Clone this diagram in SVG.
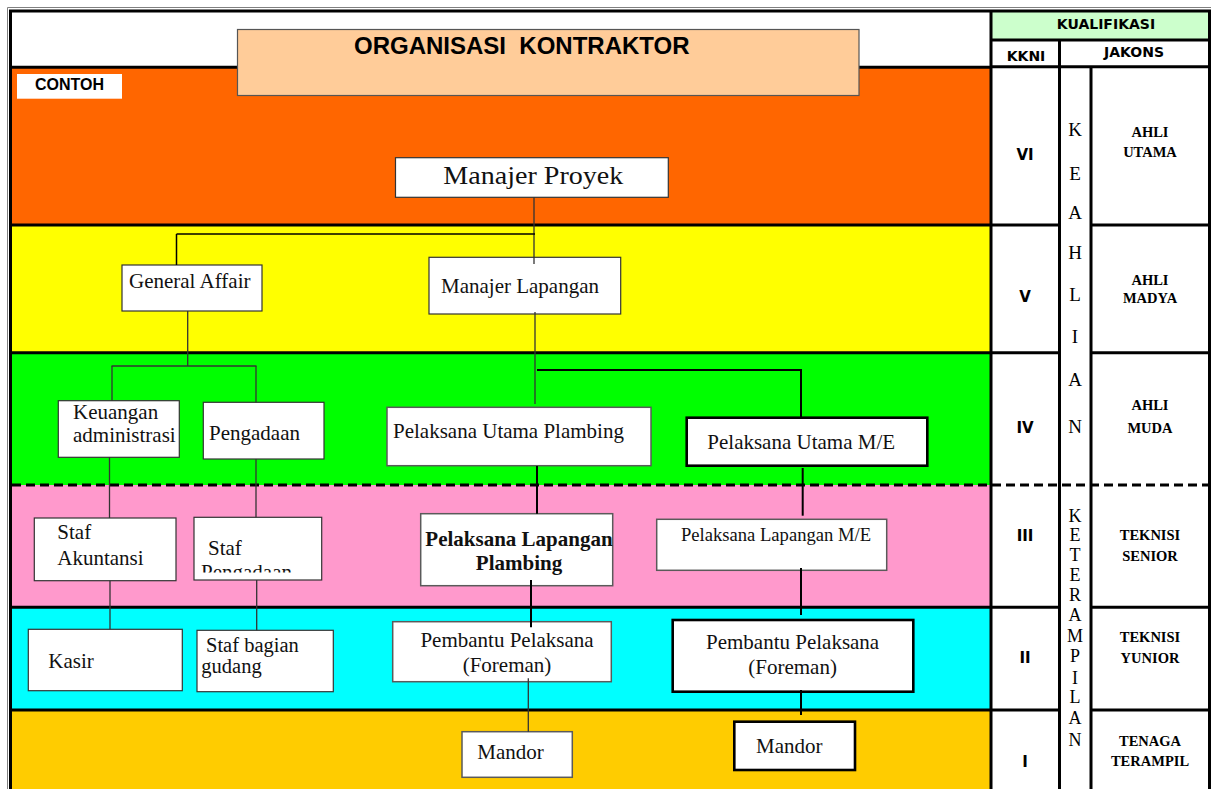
<svg xmlns="http://www.w3.org/2000/svg" width="1211" height="789" viewBox="0 0 1211 789">
  <defs>
    <style>
      .band-line { stroke: #000; stroke-width: 3; fill: none; }
      .cell-line { stroke: #000; stroke-width: 3; fill: none; }
      .box-thin { fill: #fff; stroke: #333; stroke-width: 1.2; }
      .box-gray { fill: #fff; stroke: #5a5a5a; stroke-width: 1.5; }
      .box-bold { fill: #fff; stroke: #000; stroke-width: 2.6; }
      .lbl { font-family: "Liberation Serif", "Times New Roman", serif; font-size: 21px; fill: #111; }
      .lbl-bold { font-family: "Liberation Serif", "Times New Roman", serif; font-size: 21px; font-weight: bold; fill: #111; }
      .hdr { font-family: "DejaVu Sans", Verdana, sans-serif; font-size: 14px; font-weight: bold; fill: #000; text-anchor: middle; }
      .num { font-family: "DejaVu Sans", Verdana, sans-serif; font-size: 15px; font-weight: bold; fill: #000; text-anchor: middle; }
      .lvl { font-family: "Liberation Serif", "Times New Roman", serif; font-size: 14.5px; font-weight: bold; fill: #000; text-anchor: middle; }
      .vlet { font-family: "Liberation Serif", "Times New Roman", serif; font-size: 18px; fill: #000; text-anchor: middle; }
      .con-thin { stroke: #333; stroke-width: 1.3; fill: none; }
      .con-bold { stroke: #000; stroke-width: 2; fill: none; }
    </style>
    <clipPath id="clip-staf-pengadaan">
      <rect x="194" y="517" width="128" height="55.5"/>
    </clipPath>
  </defs>

  <!-- page background -->
  <rect x="0" y="0" width="1211" height="789" fill="#fff"/>

  <!-- level bands -->
  <g id="bands">
    <rect x="12" y="12" width="978" height="55" fill="#fff"/>
    <rect x="12" y="67" width="978" height="158" fill="#FF6600"/>
    <rect x="12" y="225" width="978" height="128" fill="#FFFF00"/>
    <rect x="12" y="353" width="978" height="132" fill="#00FF00"/>
    <rect x="12" y="485" width="978" height="122" fill="#FF99CC"/>
    <rect x="12" y="607" width="978" height="103" fill="#00FFFF"/>
    <rect x="12" y="710" width="978" height="79" fill="#FFCC00"/>
    <line class="band-line" x1="12" y1="67.3" x2="990" y2="67.3"/>
    <line class="band-line" x1="12" y1="225" x2="990" y2="225"/>
    <line class="band-line" x1="12" y1="352.7" x2="990" y2="352.7"/>
    <line class="band-line" x1="12" y1="607.3" x2="990" y2="607.3"/>
    <line class="band-line" x1="12" y1="710" x2="990" y2="710"/>
  </g>

  <!-- qualification table -->
  <g id="qualification-table">
    <rect x="991" y="12" width="218.5" height="28" fill="#CCFFCC"/>
    <rect x="991" y="40" width="218.5" height="749" fill="#fff"/>
    <line class="cell-line" x1="991" y1="40" x2="1209.5" y2="40"/>
    <line class="cell-line" x1="991" y1="66.7" x2="1209.5" y2="66.7"/>
    <line class="cell-line" x1="1059.5" y1="40" x2="1059.5" y2="789"/>
    <line class="cell-line" x1="1091" y1="66.7" x2="1091" y2="789"/>
    <line class="cell-line" x1="991" y1="225" x2="1059.5" y2="225"/>
    <line class="cell-line" x1="1091" y1="225" x2="1209.5" y2="225"/>
    <line class="cell-line" x1="991" y1="352.7" x2="1059.5" y2="352.7"/>
    <line class="cell-line" x1="1091" y1="352.7" x2="1209.5" y2="352.7"/>
    <line class="cell-line" x1="991" y1="607.3" x2="1059.5" y2="607.3"/>
    <line class="cell-line" x1="1091" y1="607.3" x2="1209.5" y2="607.3"/>
    <line class="cell-line" x1="991" y1="710" x2="1059.5" y2="710"/>
    <line class="cell-line" x1="1091" y1="710" x2="1209.5" y2="710"/>
    <line class="cell-line" x1="991" y1="12" x2="991" y2="789"/>

    <text class="hdr" x="1106" y="28.5">KUALIFIKASI</text>
    <text class="hdr" x="1026" y="60.5">KKNI</text>
    <text class="hdr" x="1134" y="57">JAKONS</text>

    <text class="num" x="1025" y="160">VI</text>
    <text class="num" x="1025" y="301.7">V</text>
    <text class="num" x="1025" y="433.3">IV</text>
    <text class="num" x="1025" y="540.7">III</text>
    <text class="num" x="1025" y="663.3">II</text>
    <text class="num" x="1025" y="766.7">I</text>

    <g class="vlet" style="font-size:19px">
      <text x="1075" y="136">K</text>
      <text x="1075" y="180">E</text>
      <text x="1075" y="219">A</text>
      <text x="1075" y="259">H</text>
      <text x="1075" y="301">L</text>
      <text x="1075" y="343">I</text>
      <text x="1075" y="386">A</text>
      <text x="1075" y="433">N</text>
    </g>
    <g class="vlet">
      <text x="1075" y="521.7">K</text>
      <text x="1075" y="540.7">E</text>
      <text x="1075" y="560.7">T</text>
      <text x="1075" y="580.7">E</text>
      <text x="1075" y="600.7">R</text>
      <text x="1075" y="620.7">A</text>
      <text x="1075" y="641.7">M</text>
      <text x="1075" y="662.3">P</text>
      <text x="1075" y="684">I</text>
      <text x="1075" y="703.3">L</text>
      <text x="1075" y="724">A</text>
      <text x="1075" y="745.7">N</text>
    </g>

    <text class="lvl" x="1150" y="136.7">AHLI</text>
    <text class="lvl" x="1150" y="156.7">UTAMA</text>
    <text class="lvl" x="1150" y="285">AHLI</text>
    <text class="lvl" x="1150" y="303.3">MADYA</text>
    <text class="lvl" x="1150" y="410">AHLI</text>
    <text class="lvl" x="1150" y="433.3">MUDA</text>
    <text class="lvl" x="1150" y="540">TEKNISI</text>
    <text class="lvl" x="1150" y="560.7">SENIOR</text>
    <text class="lvl" x="1150" y="641.7">TEKNISI</text>
    <text class="lvl" x="1150" y="662.7">YUNIOR</text>
    <text class="lvl" x="1150" y="746">TENAGA</text>
    <text class="lvl" x="1150" y="766">TERAMPIL</text>
  </g>

  <!-- dashed boundary between expert and skilled levels -->
  <line x1="12" y1="485" x2="1209.5" y2="485" stroke="#000" stroke-width="3" stroke-dasharray="9 5"/>

  <!-- outer frame -->
  <g id="frame">
    <polyline points="7.5,789 7.5,7.5 1211,7.5" fill="none" stroke="#808080" stroke-width="1"/>
    <polyline points="10.5,789 10.5,11 1209.5,11 1209.5,789" fill="none" stroke="#000" stroke-width="3"/>
  </g>

  <!-- title -->
  <g id="title">
    <rect x="237.5" y="29.5" width="621.5" height="66" fill="#FFCC99" stroke="#555" stroke-width="1.2"/>
    <text x="354" y="54" font-family="'Liberation Sans', Arial, sans-serif" font-size="24" font-weight="bold" fill="#000" xml:space="preserve">ORGANISASI  KONTRAKTOR</text>
  </g>

  <g id="contoh">
    <rect x="17" y="74" width="105" height="24.7" fill="#fff"/>
    <text x="35" y="90" font-family="'Liberation Sans', Arial, sans-serif" font-size="16" font-weight="bold" fill="#000">CONTOH</text>
  </g>

  <!-- nodes -->
  <g id="n-manajer-proyek">
    <rect class="box-thin" x="395.5" y="157.7" width="272.8" height="39.6"/>
    <text class="lbl" x="443.3" y="184" style="font-size:26px" textLength="180" lengthAdjust="spacingAndGlyphs">Manajer Proyek</text>
  </g>
  <g id="n-general-affair">
    <rect class="box-thin" x="122" y="265" width="140" height="46"/>
    <text class="lbl" x="129" y="287.5">General Affair</text>
  </g>
  <g id="n-manajer-lapangan">
    <rect class="box-thin" x="429" y="257.3" width="191.7" height="56.7"/>
    <text class="lbl" x="441" y="292.7">Manajer Lapangan</text>
  </g>
  <g id="n-keuangan">
    <rect class="box-thin" x="58.3" y="400.7" width="121" height="56.6"/>
    <text class="lbl" x="73" y="419">Keuangan</text>
    <text class="lbl" x="73" y="441.7">administrasi</text>
  </g>
  <g id="n-pengadaan">
    <rect class="box-thin" x="203.3" y="402.3" width="120.7" height="56.7"/>
    <text class="lbl" x="209" y="440">Pengadaan</text>
  </g>
  <g id="n-pelaksana-utama-plambing">
    <rect class="box-gray" x="387" y="407.3" width="264" height="58.4"/>
    <text class="lbl" x="393" y="438">Pelaksana Utama Plambing</text>
  </g>
  <g id="n-pelaksana-utama-me">
    <rect class="box-bold" x="686.7" y="417.7" width="240.6" height="48"/>
    <text class="lbl" x="707.3" y="449">Pelaksana Utama M/E</text>
  </g>
  <g id="n-staf-akuntansi">
    <rect class="box-thin" x="34.3" y="518" width="141.7" height="62.7"/>
    <text class="lbl" x="57.3" y="539.3">Staf</text>
    <text class="lbl" x="57.3" y="565">Akuntansi</text>
  </g>
  <g id="n-staf-pengadaan">
    <rect class="box-thin" x="194" y="517.3" width="127.7" height="62.7"/>
    <g clip-path="url(#clip-staf-pengadaan)">
      <text class="lbl" x="208" y="555">Staf</text>
      <text class="lbl" x="201" y="579">Pengadaan</text>
    </g>
  </g>
  <g id="n-pelaksana-lapangan-plambing">
    <rect class="box-gray" x="420.7" y="513.7" width="192" height="72"/>
    <text class="lbl-bold" x="519" y="545.7" text-anchor="middle">Pelaksana Lapangan</text>
    <text class="lbl-bold" x="519" y="570" text-anchor="middle">Plambing</text>
  </g>
  <g id="n-pelaksana-lapangan-me">
    <rect class="box-gray" x="656.7" y="519.3" width="230" height="51"/>
    <text class="lbl" x="681" y="541" style="font-size:18.6px">Pelaksana Lapangan M/E</text>
  </g>
  <g id="n-kasir">
    <rect class="box-thin" x="28.3" y="629.3" width="154" height="61.4"/>
    <text class="lbl" x="48.3" y="668.3">Kasir</text>
  </g>
  <g id="n-staf-gudang">
    <rect class="box-thin" x="197" y="630.3" width="136.3" height="61.4"/>
    <text class="lbl" x="206" y="651.5" style="font-size:20.5px">Staf bagian</text>
    <text class="lbl" x="201.3" y="673" style="font-size:20.5px">gudang</text>
  </g>
  <g id="n-pembantu-plambing">
    <rect class="box-gray" x="392.7" y="621.7" width="218.6" height="60"/>
    <text class="lbl" x="507" y="646.7" text-anchor="middle">Pembantu Pelaksana</text>
    <text class="lbl" x="507" y="671.7" text-anchor="middle">(Foreman)</text>
  </g>
  <g id="n-pembantu-me">
    <rect class="box-bold" x="672.7" y="620" width="240.6" height="71.7"/>
    <text class="lbl" x="792.6" y="649.3" text-anchor="middle">Pembantu Pelaksana</text>
    <text class="lbl" x="792.6" y="674" text-anchor="middle">(Foreman)</text>
  </g>
  <g id="n-mandor-plambing">
    <rect class="box-gray" x="462" y="731.7" width="110.3" height="45.6"/>
    <text class="lbl" x="477.3" y="759">Mandor</text>
  </g>
  <g id="n-mandor-me">
    <rect class="box-bold" x="734.3" y="721.7" width="120.7" height="48.3"/>
    <text class="lbl" x="756" y="753.3">Mandor</text>
  </g>

  <!-- connectors -->
  <g id="connectors">
    <line class="con-thin" x1="534" y1="197.3" x2="534" y2="264"/>
    <line class="con-bold" x1="176.5" y1="234" x2="535" y2="234" style="stroke-width:1.7"/>
    <line class="con-bold" x1="176.5" y1="234" x2="176.5" y2="265" style="stroke-width:1.5"/>

    <line class="con-thin" x1="535" y1="312" x2="535" y2="404"/>
    <line class="con-bold" x1="537" y1="370" x2="801" y2="370"/>
    <line class="con-bold" x1="801" y1="369" x2="801" y2="418"/>

    <line class="con-thin" x1="187.7" y1="311" x2="187.7" y2="366"/>
    <line class="con-thin" x1="111.5" y1="366" x2="256.5" y2="366"/>
    <line class="con-thin" x1="112" y1="366" x2="112" y2="400.7"/>
    <line class="con-thin" x1="256" y1="366" x2="256" y2="402.3"/>

    <line class="con-thin" x1="109.5" y1="457.3" x2="109.5" y2="518"/>
    <line class="con-thin" x1="256" y1="459" x2="256" y2="517.3"/>
    <line class="con-thin" x1="110" y1="580.7" x2="110" y2="629.3"/>
    <line class="con-thin" x1="256.7" y1="580" x2="256.7" y2="630.3"/>

    <line class="con-bold" x1="537" y1="466" x2="537" y2="513.7"/>
    <line class="con-bold" x1="531" y1="580" x2="531" y2="627.3"/>
    <line class="con-thin" x1="528.3" y1="678.3" x2="528.3" y2="731.7"/>

    <line class="con-bold" x1="802.7" y1="468" x2="802.7" y2="515.7"/>
    <line class="con-bold" x1="801" y1="568" x2="801" y2="615"/>
    <line class="con-bold" x1="801" y1="690" x2="801" y2="715"/>
  </g>
</svg>
